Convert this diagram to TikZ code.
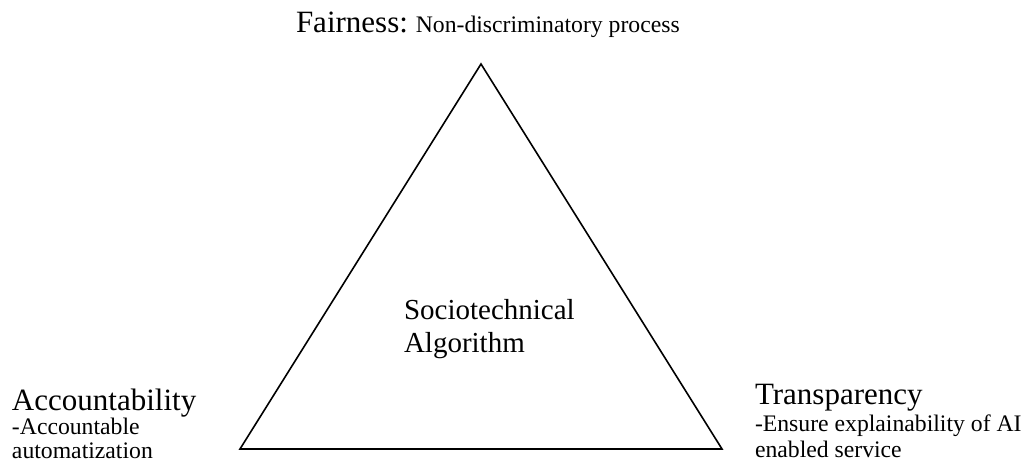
\documentclass[tikz,border=0pt]{standalone}
\usepackage{fontspec}
\setmainfont{Liberation Serif}
\begin{document}
\begin{tikzpicture}[x=1pt,y=-1pt,
  txt/.style={anchor=base west,inner sep=0pt,outer sep=0pt},
  big/.style={txt,font=\fontsize{31}{33}\selectfont},
  mid/.style={txt,font=\fontsize{29}{33}\selectfont},
  small/.style={txt,font=\fontsize{23.7}{26}\selectfont},
  tri/.style={draw=black,line width=1.6pt,line join=miter}]
\useasboundingbox (0,0) rectangle (1029,471);
\coordinate (apex) at (481,64);
\coordinate (bl) at (240,449);
\coordinate (br) at (722,449);
\draw[tri] (apex) -- (bl) -- (br) -- cycle;
\node[big] (fair) at (296,32) {Fairness:\fontsize{23.7}{26}\selectfont{} Non-discriminatory process};
\node[mid] (socio) at (404,319) {Sociotechnical};
\node[mid] (algo) at (404,352) {Algorithm};
\node[big] (acc) at (12,410) {Accountability};
\node[small] (acc1) at (12,434) {-Accountable};
\node[small] (acc2) at (12,458) {automatization};
\node[big] (trans) at (755,404) {Transparency};
\node[small] (trans1) at (755,431) {-Ensure explainability of AI};
\node[small] (trans2) at (755,457) {enabled service};
\end{tikzpicture}
\end{document}
